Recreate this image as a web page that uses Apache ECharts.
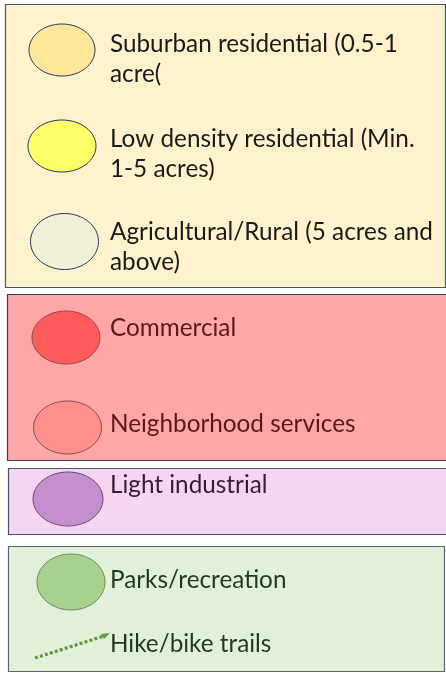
<!DOCTYPE html>
<html>
<head>
<meta charset="utf-8">
<script src="https://cdn.jsdelivr.net/npm/echarts@6/dist/echarts.min.js"></script>
<style>
html,body{margin:0;padding:0;background:#ffffff;}
#chart{width:446px;height:673px;}
</style>
</head>
<body>
<div id="chart"></div>
<script>
// ---- content ----
const groupNames = ["Residential", "Commercial", "Industrial", "Recreation"];
const groupFills = ["#FFF2CC", "#FFA6A6", "#F5D5F0", "#E2F0D9"];
const groupStrokes = ["#44546A", "#3B3F5C", "#4A5278", "#5A6478"];
const itemLabels = [
  "Suburban residential (0.5-1\nacre(",
  "Low density residential (Min.\n1-5 acres)",
  "Agricultural/Rural (5 acres and\nabove)",
  "Commercial",
  "Neighborhood services",
  "Light industrial",
  "Parks/recreation",
  "Hike/bike trails"
];
const itemGroup = [0, 0, 0, 1, 1, 2, 3, 3];
const itemSymbol = ["ellipse", "ellipse", "ellipse", "ellipse", "ellipse", "ellipse", "ellipse", "dotted"];
const itemFills = ["#FFE699", "#FFFF66", "#F1EFD6", "#FF5B5B", "#FF8F8B", "#C48FCC", "#A9D18E", "#5B9B3A"];
const itemStrokes = ["#1F3864", "#1F3864", "#1F3864", "#8A4A55", "#8A4A55", "#6A4A80", "#6A8A60", "#5B9B3A"];
const textColors = ["#1A1A1A", "#5A1818", "#3A1A3A", "#1E3A1E"];

// ---- layout (positions/sizes) ----
const boxTop = [4, 294, 468, 546];
const boxBottom = [287, 460, 534, 671];
const boxLeft = [5, 7, 8, 8];
const boxRight = [445, 452, 452, 444];
const symCx = [62, 62, 64.5, 66, 67.5, 68, 71, 0];
const symCy = [50, 146, 241.5, 337.5, 427.5, 499, 582, 0];
const symRx = [33, 34, 34, 34, 34, 35, 34, 0];
const symRy = [26, 26, 28, 26.5, 26.5, 27, 28, 0];
const textX = 110;
const baselines = [52, 146.7, 240, 335.7, 431.7, 493, 588, 651.7];
const lineH = 30;
const fontFamily = "Lato, 'Open Sans', sans-serif";

// fit font size to reference width of the first label line (288px)
const cv = document.createElement('canvas').getContext('2d');
cv.font = "100px " + fontFamily;
const w100 = cv.measureText("Suburban residential (0.5-1").width;
const fs = Math.round(100 * 288 / w100 * 10) / 10;

const elements = [];
groupNames.forEach((g, i) => {
  elements.push({
    type: 'rect', z: 1,
    shape: { x: boxLeft[i] + 0.5, y: boxTop[i] + 0.5, width: boxRight[i] - boxLeft[i], height: boxBottom[i] - boxTop[i] },
    style: { fill: groupFills[i], stroke: groupStrokes[i], lineWidth: 1.2 }
  });
});
itemLabels.forEach((lab, i) => {
  const g = itemGroup[i];
  if (itemSymbol[i] === 'ellipse') {
    elements.push({
      type: 'ellipse', z: 2,
      shape: { cx: symCx[i], cy: symCy[i], rx: symRx[i], ry: symRy[i] },
      style: { fill: itemFills[i], stroke: itemStrokes[i], lineWidth: 1 }
    });
  } else {
    elements.push({
      type: 'polyline', z: 2,
      shape: { points: [[35, 658], [104, 636]] },
      style: { stroke: itemFills[i], lineWidth: 3.2, lineDash: [3, 2.2], fill: null }
    });
    elements.push({
      type: 'polygon', z: 2,
      shape: { points: [[101, 634], [110, 633], [104, 639]] },
      style: { fill: itemFills[i] }
    });
  }
  const nLines = lab.split('\n').length;
  // middle of first line box approx baseline - 0.32*fs
  const yMid = baselines[i] - fs * 0.33 + (nLines - 1) * lineH / 2;
  elements.push({
    type: 'text', z: 3,
    x: textX, y: yMid,
    style: {
      text: lab, fill: textColors[g],
      font: fs + "px " + fontFamily,
      lineHeight: lineH,
      align: 'left', verticalAlign: 'middle'
    }
  });
});

const chart = echarts.init(document.getElementById('chart'), null, { renderer: 'canvas' });
chart.setOption({
  backgroundColor: '#ffffff',
  animation: false,
  graphic: { elements: elements }
});
</script>
</body>
</html>
